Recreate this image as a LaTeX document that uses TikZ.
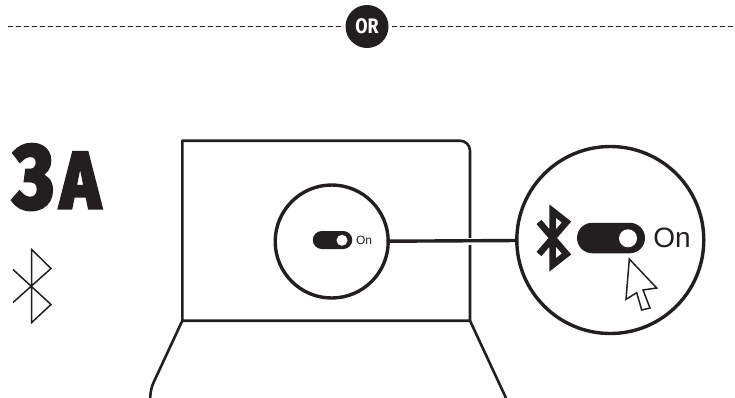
\documentclass[tikz,border=0pt]{standalone}
\usepackage{fontspec}
\setmainfont{Liberation Sans}
\newfontfamily\headfont{Fira Sans}[FakeStretch=0.85,FakeBold=4]
\newfontfamily\orfont{Fira Sans}[FakeStretch=0.85]
\usetikzlibrary{positioning, shapes.misc}
\definecolor{ink}{HTML}{231F20}

\begin{document}
\begin{tikzpicture}[
    x=1pt, y=-1pt,
    lens/.style={draw=ink, circle, line width=3.4pt, inner sep=0pt,
                 minimum size=#1},
    toggle/.style={fill=ink, rounded rectangle, inner sep=0pt,
                   minimum height=#1},
    knob/.style={fill=white, circle, inner sep=0pt, minimum size=#1},
    ontext/.style={text=ink, inner sep=0pt, font=\fontsize{#1}{#1}\selectfont},
    outline/.style={draw=ink, line width=2.6pt, line join=round},
    thinline/.style={draw=ink, line width=1.5pt, line join=miter}
  ]
  \useasboundingbox (0,0) rectangle (735,397);

  % Divider
  \node[circle, fill=ink, minimum size=43pt, inner sep=0pt, text=white,
        font=\orfont\bfseries\fontsize{21}{21}\selectfont] (orbadge) at (367,26.5) {OR};
  \coordinate (divleft) at (8,26.5);
  \coordinate (divright) at (735,26.5);
  \draw[ink, line width=1.2pt, dash pattern=on 5pt off 3pt] (divleft) -- ([xshift=-3pt]orbadge.west);
  \draw[ink, line width=1.2pt, dash pattern=on 5pt off 3pt] ([xshift=3pt]orbadge.east) -- (divright);

  % Step label
  \node[text=ink, inner sep=0pt, anchor=base west,
        font=\headfont\bfseries\fontsize{92}{92}\selectfont] (stepnum) at (13,208) {3};
  \node[text=ink, inner sep=0pt, anchor=base west,
        font=\headfont\bfseries\fontsize{80}{80}\selectfont] (stepletter) at (60,208) {A};

  % Thin bluetooth mark
  \draw[thinline] (13,269.5) -- (51,304.5) -- (31.7,322.5) -- (31.7,249.5) -- (51,268.5) -- (13,302.5);

  % Laptop
  \draw[outline] (182.3,320.7) -- (182.3,140.7) -- (460,140.7)
    arc[start angle=-90, end angle=0, radius=10] -- (470,320.7) -- cycle;
  \draw[outline, rounded corners=6pt] (182.3,320.7) -- (151,388) -- (150,400);
  \draw[outline] (470,320.7) -- (506,398);

  % Lenses
  \node[lens=113pt] (lenssmall) at (331.7,241.5) {};
  \node[lens=187pt] (lensbig) at (610.3,240) {};
  \draw[white, line width=7pt] (lenssmall.east) ++(78,0) -- ++(8,0);
  \draw[ink, line width=3.4pt] (lenssmall) -- (lensbig);

  % Small switch
  \node[toggle=18pt, minimum width=39.5pt] (togglesmall) at (332.5,240) {};
  \node[knob=11pt] (knobsmall) at (342,240.3) {};
  \node[ontext=12, right=3.5pt of togglesmall] (onsmall) {On};

  % Big switch
  \node[toggle=30.5pt, minimum width=68pt] (togglebig) at (611,238) {};
  \node[knob=18pt] (knobbig) at (628,238.3) {};
  \node[ontext=28, right=8pt of togglebig] (onbig) {On};

  % Bold bluetooth mark
  \draw[draw=ink, line width=6.5pt, line join=miter, miter limit=6]
    (539,222) -- (566.5,254) -- (552.5,265) -- (552.5,211) -- (566.5,222) -- (539,254);

  % Pointer
  \draw[thinline, fill=white] (629.3,259) -- (656.7,288) -- (643,290) -- (650,308)
    -- (641.7,310) -- (636.7,292.7) -- (626,299.3) -- cycle;

\end{tikzpicture}
\end{document}
